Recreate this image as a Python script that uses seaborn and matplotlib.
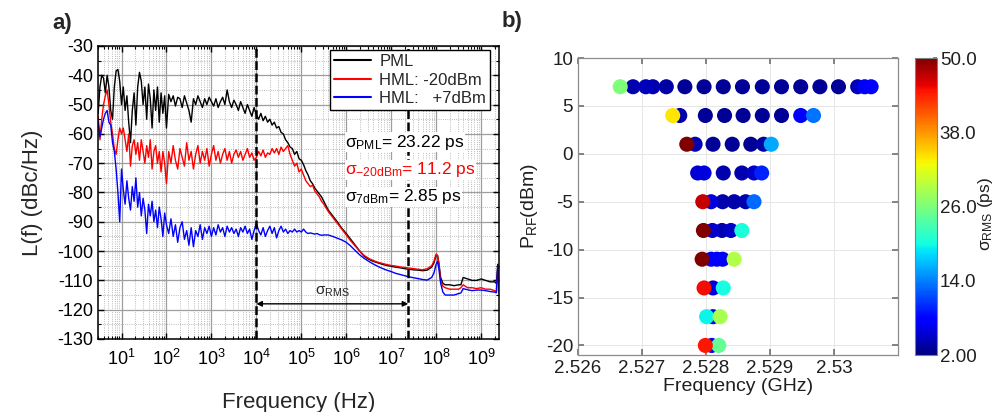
import numpy as np
import pandas as pd
import matplotlib
matplotlib.use("Agg")
import matplotlib.pyplot as plt
import seaborn as sns
from matplotlib.lines import Line2D
from matplotlib.ticker import MultipleLocator, LogLocator, NullFormatter

# ---- panel a: phase noise traces (log10 of offset frequency in Hz, level in dBc/Hz)
log_freq = [
    0.48, 0.52, 0.56, 0.60, 0.64, 0.68, 0.72, 0.76, 0.80, 0.84,
    0.88, 0.92, 0.96, 1.00, 1.04, 1.08, 1.12, 1.16, 1.20, 1.24,
    1.28, 1.32, 1.36, 1.40, 1.44, 1.48, 1.52, 1.56, 1.60, 1.64,
    1.68, 1.72, 1.76, 1.80, 1.84, 1.88, 1.92, 1.96, 2.00,
    2.05, 2.10, 2.15, 2.20, 2.25, 2.30, 2.35, 2.40, 2.45, 2.50,
    2.55, 2.60, 2.65, 2.70, 2.75, 2.80, 2.85, 2.90, 2.95, 3.00,
    3.05, 3.10, 3.15, 3.20, 3.25, 3.30, 3.35, 3.40, 3.45, 3.50,
    3.55, 3.60, 3.65, 3.70, 3.75, 3.80, 3.85, 3.90, 3.95, 4.00,
    4.05, 4.10, 4.15, 4.20, 4.25, 4.30, 4.35, 4.40, 4.45, 4.50,
    4.55, 4.60, 4.65, 4.70, 4.75, 4.80, 4.85, 4.90, 4.95, 5.00,
    5.05, 5.10, 5.15, 5.20, 5.25, 5.30, 5.35, 5.40, 5.45, 5.50,
    5.6, 5.7, 5.8, 5.9, 6.0, 6.1, 6.2, 6.3, 6.4, 6.5, 6.6, 6.7,
    6.8, 6.9, 7.0, 7.1, 7.2, 7.3, 7.4, 7.5, 7.6, 7.7, 7.8, 7.9,
    7.95, 8.00, 8.03, 8.06, 8.10, 8.15, 8.20,
    8.3, 8.4, 8.5, 8.55, 8.6, 8.7, 8.8, 8.9, 9.0, 9.1, 9.2, 9.3, 9.34, 9.37, 9.40,
]

pml = [
    -53, -44, -40, -41, -46, -40, -44, -52, -55, -44,
    -38.5, -38, -42, -50, -44, -52, -47, -56, -63, -52,
    -46, -57, -44, -39, -42, -50, -44, -55, -43, -48,
    -58, -45, -52, -44, -56, -46, -53, -47, -58,
    -46.5, -49, -47, -50.5, -47.5, -48, -51, -47, -49.5, -52,
    -56, -48, -50, -47, -49, -51, -48, -50, -47.5, -49,
    -50.5, -48, -51, -49, -47.5, -50, -45, -49, -51, -48.5,
    -50, -52, -49, -51, -53, -50, -52, -54, -51, -53.5,
    -55, -53, -55.5, -54, -56, -55, -57, -56, -58, -57.5,
    -59.5, -60, -62, -63, -64.5, -65, -67, -66, -68.5, -69,
    -70.5, -72.5, -74, -76, -77, -78.5, -79.5, -80.5, -81.5, -83,
    -86, -88, -90, -92.2, -94, -96, -98, -100, -101.8, -102.8, -103.5, -104,
    -104.5, -104.9, -105.2, -105.5, -105.7, -106, -106.2, -106.4, -106.5, -106.7, -106.5, -105.5,
    -104, -101.5, -101.5, -104, -109, -111, -111.5,
    -111.5, -111.8, -111.5, -111.5, -109, -109.5, -110, -110, -109.5, -110, -110.5, -110.5, -111, -104.5, -112,
]

hml_m20 = [
    -54, -62, -55, -50, -47, -45, -50, -56, -60, -65,
    -67, -62, -58, -60, -58, -62, -66, -60, -71, -64,
    -62, -67, -63, -69, -62, -66, -70, -64, -68, -62,
    -72, -66, -64, -70, -66, -73, -66, -70, -77,
    -66, -70, -64, -69, -72, -65, -68, -71, -63, -69,
    -66, -72, -67, -64, -70, -66, -69, -65, -71, -67,
    -64, -69, -66, -70, -67, -65, -69, -66, -70, -67,
    -65.5, -68, -66, -69, -67, -65, -68, -66.5, -69, -68,
    -66, -67.5, -65.5, -68, -66.5, -67, -65, -66.5, -65, -67,
    -64.5, -66, -65, -64, -67, -69, -71, -70, -73, -72,
    -74, -76, -77, -78, -77.5, -79.5, -80.5, -81.5, -83, -84,
    -86.5, -88.5, -90.5, -92.5, -94.5, -96.5, -98.3, -100, -101.5, -102.5, -103.2, -103.8,
    -104.2, -104.6, -104.9, -105.1, -105.4, -105.6, -105.8, -106, -106.2, -106.4, -106, -105,
    -103.5, -101, -101.5, -104.5, -110, -112, -112.5,
    -113, -113, -113, -112.5, -111.5, -112.5, -112.5, -112.8, -112.5, -113, -113, -113.5, -114, -106, -114,
]

hml_p7 = [
    -56, -61, -58, -55, -53, -52, -56, -57, -63, -66,
    -72, -80, -90, -72, -79, -84, -76, -82, -86, -78,
    -83, -75, -85, -80, -88, -82, -86, -94, -84, -88,
    -83, -90, -86, -92, -85, -89, -95, -87, -91,
    -94, -89, -95, -91, -97, -92, -90, -96, -93, -98,
    -92, -98.5, -93, -95, -91, -96, -92, -94, -91.5, -95,
    -92, -94.5, -91, -93.5, -92, -95, -91.5, -93.5, -92, -94,
    -92.5, -95, -92, -93.5, -91.5, -94, -92.5, -96, -93, -90.5,
    -93, -94.5, -92, -95, -93, -91.5, -94, -92, -95.5, -93,
    -91.5, -93.5, -92.5, -94, -93, -93.5, -92.5, -93.5, -93, -93.5,
    -92.5, -93.5, -94, -93.8, -94, -94.2, -94, -94.4, -94.6, -94.5,
    -94.5, -95, -95.6, -96.2, -97, -98.3, -99.8, -101.3, -102.5, -103.5, -104.4, -105.2,
    -105.9, -106.5, -107, -107.6, -108, -108.4, -108.8, -109.1, -109.4, -109.7, -109.9, -109,
    -107.5, -104.5, -103.5, -106, -111, -114, -115,
    -115, -115, -114.5, -114.3, -112.8, -113.2, -113.5, -113.3, -113.3, -113.5, -113.8, -114, -114.2, -105, -114.5,
]

trace_names = ["PML", "HML: -20dBm", "HML:   +7dBm"]
trace_colors = ["black", "red", "blue"]
rms_band = [1e4, 2.4e7]
jitter_labels = [r"$\mathrm{\sigma_{PML}}$= 23.22 ps",
                 r"$\mathrm{\sigma_{-20dBm}}$= 11.2 ps",
                 r"$\mathrm{\sigma_{7dBm}}$= 2.85 ps"]

# ---- panel b: RMS jitter map (RF power dBm, frequency GHz, sigma ps)
freq_7 = [2.52666, 2.52686, 2.52706, 2.52717, 2.52738, 2.52767, 2.52797, 2.52827, 2.52857,
          2.52888, 2.52918, 2.52948, 2.52978, 2.53007, 2.53037, 2.53048, 2.53058]
sigma_7 = [26, 4, 4.5, 4, 3.5, 3, 3, 3, 3, 3, 3, 3, 3, 3, 4.5, 7, 8]
freq_4 = [2.52748, 2.52759, 2.52799, 2.52829, 2.52858, 2.52888, 2.52918, 2.52948, 2.52968]
sigma_4 = [34, 4, 3, 3, 3, 3, 3, 7.5, 13.5]
freq_1 = [2.5277, 2.52783, 2.52811, 2.52841, 2.5287, 2.5289, 2.52902]
sigma_1 = [50, 4, 3, 3, 3, 3.5, 16]
freq_m2 = [2.52787, 2.52797, 2.52827, 2.52856, 2.52875, 2.52887]
sigma_m2 = [5.5, 6, 4, 4, 5, 9.5]
freq_m5 = [2.52795, 2.52808, 2.52826, 2.52844, 2.52862, 2.52875]
sigma_m5 = [47, 6, 4, 4, 4, 13]
freq_m8 = [2.52796, 2.5281, 2.52825, 2.52839, 2.52856]
sigma_m8 = [50, 5, 4, 5, 20.5]
freq_m11 = [2.52794, 2.52808, 2.52817, 2.52826, 2.52844]
sigma_m11 = [50, 7, 7.5, 6.5, 29]
freq_m14 = [2.52797, 2.52811, 2.52827]
sigma_m14 = [45, 6, 20]
freq_m17 = [2.52801, 2.52811, 2.52822]
sigma_m17 = [19.5, 6, 28.5]
freq_m20 = [2.52799, 2.52809, 2.5282]
sigma_m20 = [44.5, 6.5, 24.5]

rf_rows = [(7, freq_7, sigma_7), (4, freq_4, sigma_4), (1, freq_1, sigma_1),
           (-2, freq_m2, sigma_m2), (-5, freq_m5, sigma_m5), (-8, freq_m8, sigma_m8),
           (-11, freq_m11, sigma_m11), (-14, freq_m14, sigma_m14),
           (-17, freq_m17, sigma_m17), (-20, freq_m20, sigma_m20)]

sns.set_theme(style="ticks")
plt.rcParams["font.family"] = ["Liberation Sans", "DejaVu Sans"]
plt.rcParams["mathtext.fontset"] = "custom"
plt.rcParams["mathtext.rm"] = "Liberation Sans"
plt.rcParams["mathtext.it"] = "Liberation Sans:italic"
plt.rcParams["mathtext.bf"] = "Liberation Sans:bold"
plt.rcParams["axes.unicode_minus"] = False

fig = plt.figure(figsize=(9.96, 4.12), dpi=100)
ax_a = fig.add_axes([0.0984, 0.1772, 0.4026, 0.7112])
ax_b = fig.add_axes([0.5803, 0.1383, 0.3213, 0.7209])
cax = fig.add_axes([0.9187, 0.1383, 0.0221, 0.7209])

# build long table for seaborn
freq_hz = 10 ** np.array(log_freq)
df_a = pd.concat([
    pd.DataFrame({"freq": freq_hz, "level": vals, "trace": name})
    for name, vals in zip(trace_names, [pml, hml_m20, hml_p7])
])

sns.lineplot(data=df_a, x="freq", y="level", hue="trace", hue_order=trace_names,
             palette=dict(zip(trace_names, trace_colors)), estimator=None, sort=False,
             lw=1.0, legend=False, ax=ax_a)

ax_a.set_xscale("log")
ax_a.set_xlim(3, 2.5e9)
ax_a.set_ylim(-130, -30)
ax_a.set_xticks([10.0 ** k for k in range(1, 10)])
ax_a.set_yticks(range(-130, -29, 10))
ax_a.yaxis.set_minor_locator(MultipleLocator(5))
ax_a.xaxis.set_minor_locator(LogLocator(base=10, subs=np.arange(2, 10), numticks=20))
ax_a.xaxis.set_minor_formatter(NullFormatter())
ax_a.set_axisbelow(True)
ax_a.grid(which="major", color="0.62", lw=0.9, ls="-")
ax_a.grid(which="minor", color="0.65", lw=0.6, ls=":")
ax_a.tick_params(which="both", direction="in", top=True, right=True, colors="black", labelsize=13)
ax_a.tick_params(which="major", length=4, width=1)
ax_a.tick_params(which="minor", length=2.5, width=0.8)
ax_a.tick_params(axis="x", which="major", pad=7)
for s in ax_a.spines.values():
    s.set_color("black")
    s.set_linewidth(1.1)
ax_a.set_xlabel("Frequency (Hz)", fontsize=16, labelpad=17)
ax_a.set_ylabel("L(f) (dBc/Hz)", fontsize=16, labelpad=10)

for xv in rms_band:
    ax_a.axvline(xv, color="black", lw=1.8, ls=(0, (3.5, 1.4)), zorder=3)
ax_a.annotate("", xy=(rms_band[1], -118), xytext=(rms_band[0], -118),
              arrowprops=dict(arrowstyle="<|-|>", color="black", lw=1.0,
                              mutation_scale=8, shrinkA=0, shrinkB=0), zorder=4)
ax_a.text(4.9e5, -114, r"$\mathrm{\sigma_{RMS}}$", fontsize=11, ha="center", va="center")

txt_box = dict(facecolor="white", edgecolor="none", pad=0.3)
ax_a.text(9.5e5, -62.8, jitter_labels[0], fontsize=12.5, color="black", ha="left", va="center",
          bbox=txt_box, zorder=5)
ax_a.text(9.5e5, -72.3, jitter_labels[1], fontsize=12.5, color="red", ha="left", va="center",
          bbox=txt_box, zorder=5)
ax_a.text(9.5e5, -81.5, jitter_labels[2], fontsize=12.5, color="black", ha="left", va="center",
          bbox=txt_box, zorder=5)

handles = [Line2D([], [], color=c, lw=1.5) for c in trace_colors]
leg = ax_a.legend(handles, trace_names, loc="upper right", bbox_to_anchor=(0.978, 0.986),
                  borderaxespad=0, fancybox=False, edgecolor="black", framealpha=1,
                  fontsize=12, handlelength=2.2, labelspacing=0.2, borderpad=0.25,
                  handletextpad=0.5)
leg.get_frame().set_linewidth(1.0)

# ---- panel b
jet = matplotlib.colormaps["jet"]
df_b = pd.concat([
    pd.DataFrame({"freq": f, "power": p, "sigma": s}) for p, f, s in rf_rows
]).sort_values("sigma")

sns.scatterplot(data=df_b, x="freq", y="power", hue="sigma", palette=jet,
                hue_norm=(2, 50), s=118, linewidth=0, legend=False, ax=ax_b, zorder=3)
ax_b.set_xlim(2.526, 2.531)
ax_b.set_ylim(-21, 10)
ax_b.set_xticks([2.526, 2.527, 2.528, 2.529, 2.53],
                ["2.526", "2.527", "2.528", "2.529", "2.53"])
ax_b.set_yticks(range(-20, 11, 5))
ax_b.grid(True, color="0.9", lw=0.7)
ax_b.set_axisbelow(True)
ax_b.tick_params(direction="in", top=True, right=True, color="0.45", length=4,
                 labelsize=13.5, labelcolor="0.12")
for s in ax_b.spines.values():
    s.set_color("0.55")
    s.set_linewidth(0.9)
ax_b.set_xlabel("Frequency (GHz)", fontsize=14, labelpad=1, color="0.12")
ax_b.set_ylabel(r"$\mathrm{P_{RF}}$(dBm)", fontsize=14, labelpad=4, color="0.12")

norm = plt.Normalize(2, 50)
sm = plt.cm.ScalarMappable(norm=norm, cmap=jet)
cb = fig.colorbar(sm, cax=cax, ticks=[2, 14, 26, 38, 50])
cb.set_ticklabels(["2.00", "14.0", "26.0", "38.0", "50.0"])
cb.outline.set_edgecolor("0.5")
cb.outline.set_linewidth(0.8)
cax.tick_params(labelsize=13.5, length=3, direction="in", color="0.45", labelcolor="0.12", pad=2)
fig.text(985 / 996, 1 - 214 / 412, r"$\mathrm{\sigma_{RMS}}$ (ps)", fontsize=12.5,
         color="0.12", rotation=90, ha="center", va="center")

fig.text(62 / 996, 1 - 23 / 412, "a)", fontsize=16, fontweight="bold", ha="center", va="center")
fig.text(512 / 996, 1 - 22 / 412, "b)", fontsize=16, fontweight="bold", ha="center", va="center")

fig.savefig("out.png", dpi=100)
